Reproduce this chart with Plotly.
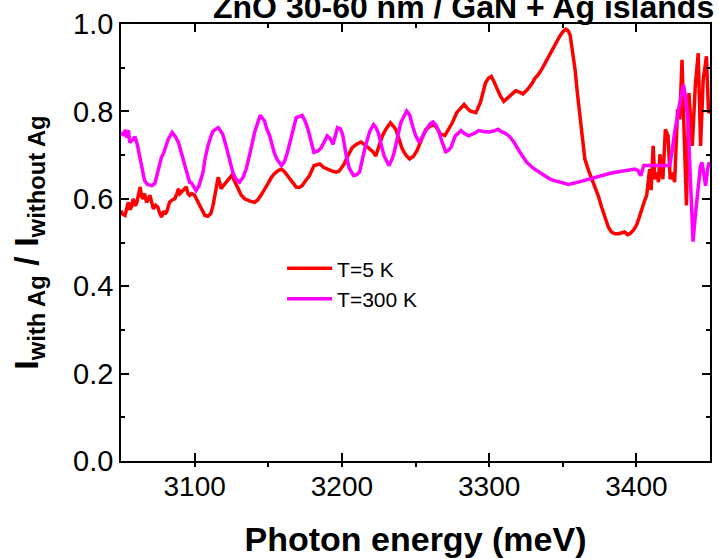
import plotly.graph_objects as go

# ---- data ----
e_300K = [3050, 3052, 3053, 3054, 3055, 3056, 3058, 3059.5, 3061, 3062, 3064, 3066, 3068, 3071, 3073, 3074,
          3076, 3077.5, 3079, 3080, 3082, 3084.7, 3087, 3089, 3091, 3093, 3095, 3096.6, 3098, 3101, 3103,
          3105.7, 3107, 3109, 3111, 3112.5, 3116, 3119, 3121, 3124, 3126, 3128, 3130.5, 3133, 3135, 3138,
          3140.7, 3144.5, 3147.5, 3149, 3151, 3154, 3156, 3159, 3161, 3163, 3166, 3169, 3173, 3175, 3177,
          3179, 3181, 3184, 3186, 3188, 3190, 3192, 3194, 3196, 3197, 3199, 3200.5, 3203, 3205, 3208, 3210,
          3212, 3214, 3216, 3219, 3221.5, 3223, 3225, 3227, 3228.7, 3232, 3234, 3235.5, 3238, 3240, 3244,
          3246, 3248, 3250, 3252.5, 3255, 3257, 3260, 3262, 3264, 3266, 3268, 3270.5, 3272, 3274, 3277,
          3281, 3283, 3286, 3290, 3293, 3296, 3300, 3303, 3306, 3308, 3311, 3314, 3317, 3321, 3325.7, 3330,
          3333.6, 3338, 3342, 3348, 3354, 3358, 3363, 3368, 3372, 3377, 3383, 3388, 3392, 3396, 3399, 3401,
          3403, 3405, 3410, 3415, 3419, 3422.7, 3424.5, 3426, 3429, 3432, 3433.5, 3435, 3437, 3438.5, 3440,
          3441.9, 3443.5, 3444.6, 3446, 3447, 3448.5, 3449.4, 3450]
r_300K = [0.752, 0.745, 0.758, 0.740, 0.757, 0.729, 0.735, 0.742, 0.725, 0.71, 0.672, 0.642, 0.633, 0.630,
          0.635, 0.649, 0.675, 0.695, 0.705, 0.715, 0.736, 0.752, 0.742, 0.729, 0.705, 0.676, 0.655, 0.638,
          0.636, 0.619, 0.630, 0.661, 0.69, 0.721, 0.742, 0.755, 0.763, 0.748, 0.725, 0.683, 0.660, 0.645,
          0.638, 0.650, 0.668, 0.71, 0.752, 0.791, 0.778, 0.760, 0.744, 0.706, 0.690, 0.676, 0.685, 0.706,
          0.750, 0.786, 0.791, 0.778, 0.759, 0.730, 0.706, 0.710, 0.717, 0.730, 0.744, 0.738, 0.725, 0.750,
          0.763, 0.760, 0.748, 0.698, 0.670, 0.653, 0.655, 0.661, 0.690, 0.721, 0.755, 0.770, 0.764, 0.748,
          0.720, 0.698, 0.676, 0.690, 0.706, 0.745, 0.774, 0.801, 0.792, 0.767, 0.745, 0.729, 0.742, 0.756,
          0.772, 0.776, 0.768, 0.752, 0.730, 0.708, 0.710, 0.717, 0.744, 0.756, 0.750, 0.744, 0.750, 0.756,
          0.754, 0.753, 0.755, 0.759, 0.754, 0.750, 0.742, 0.729, 0.706, 0.683, 0.670, 0.661, 0.652, 0.644,
          0.639, 0.633, 0.636, 0.641, 0.645, 0.649, 0.654, 0.659, 0.662, 0.664, 0.668, 0.668, 0.665, 0.653,
          0.676, 0.676, 0.676, 0.674, 0.676, 0.715, 0.752, 0.810, 0.861, 0.830, 0.782, 0.620, 0.502, 0.560,
          0.615, 0.675, 0.683, 0.650, 0.630, 0.670, 0.683, 0.680]

e_5K = [3050, 3051, 3052.7, 3054, 3055, 3056, 3057, 3058.3, 3059.5, 3060.6, 3062, 3063, 3064, 3065, 3066,
        3067.4, 3068.5, 3069.6, 3071, 3072, 3073.5, 3075, 3076, 3077.5, 3079, 3080, 3081, 3083, 3085, 3086.5,
        3088, 3089, 3090, 3091, 3092.5, 3094.4, 3095.5, 3096.6, 3098, 3100, 3101.5, 3103.4, 3105, 3107, 3109,
        3111, 3112.5, 3113.6, 3115, 3116, 3117, 3118, 3120, 3121.5, 3123, 3125, 3126.5, 3128, 3130, 3131.7,
        3134, 3136, 3138, 3140.7, 3143, 3145, 3147.5, 3149.7, 3152, 3154, 3156.5, 3159, 3161, 3163, 3166,
        3169, 3171, 3173, 3175.5, 3178, 3180, 3181, 3183, 3185, 3187.5, 3190, 3193, 3196, 3198, 3200, 3201.6,
        3203, 3205, 3207, 3210, 3213, 3216, 3218.5, 3221, 3223, 3225, 3227.5, 3230, 3233, 3235, 3236.6, 3239,
        3241, 3243.5, 3246, 3248.5, 3251, 3254, 3257, 3260, 3262.5, 3265, 3267, 3270, 3272.5, 3275, 3278,
        3280.5, 3283, 3285, 3287, 3291, 3294, 3296, 3297.5, 3299.5, 3301.5, 3303, 3305, 3307.7, 3310, 3313,
        3315.5, 3318, 3320.5, 3323, 3326, 3329, 3331, 3333.6, 3336, 3338, 3341, 3345, 3348, 3350, 3352,
        3353.5, 3355, 3356.5, 3358.4, 3360, 3361.8, 3363.5, 3365, 3367.5, 3370, 3372, 3374, 3376.5, 3379,
        3381, 3383, 3385.5, 3388, 3390, 3392, 3394, 3395.6, 3398, 3400, 3402, 3403.6, 3405.5, 3407, 3408,
        3409, 3410, 3411.4, 3412.5, 3414, 3415, 3416, 3417, 3418, 3419.7, 3421.5, 3423, 3424.5, 3426, 3428,
        3429.5, 3431, 3432.5, 3434, 3435.7, 3437, 3438, 3440, 3442, 3443.6, 3445.4, 3447.6, 3449, 3450]
r_5K = [0.573, 0.565, 0.562, 0.585, 0.592, 0.575, 0.581, 0.600, 0.584, 0.589, 0.610, 0.627, 0.605, 0.600,
        0.612, 0.592, 0.598, 0.608, 0.590, 0.577, 0.585, 0.581, 0.570, 0.558, 0.572, 0.565, 0.570, 0.592,
        0.598, 0.600, 0.612, 0.623, 0.612, 0.615, 0.622, 0.627, 0.612, 0.608, 0.612, 0.608, 0.598, 0.585,
        0.572, 0.562, 0.560, 0.566, 0.585, 0.608, 0.635, 0.649, 0.638, 0.623, 0.632, 0.638, 0.645, 0.653,
        0.645, 0.634, 0.620, 0.608, 0.600, 0.596, 0.594, 0.592, 0.598, 0.608, 0.620, 0.634, 0.648, 0.657,
        0.664, 0.668, 0.662, 0.653, 0.640, 0.627, 0.626, 0.630, 0.642, 0.653, 0.668, 0.676, 0.678, 0.680,
        0.672, 0.668, 0.664, 0.661, 0.663, 0.672, 0.680, 0.691, 0.705, 0.717, 0.725, 0.730, 0.722, 0.714,
        0.708, 0.698, 0.720, 0.744, 0.760, 0.774, 0.766, 0.759, 0.735, 0.714, 0.700, 0.691, 0.697, 0.710,
        0.735, 0.759, 0.766, 0.770, 0.760, 0.748, 0.745, 0.758, 0.774, 0.797, 0.808, 0.816, 0.808, 0.801,
        0.797, 0.820, 0.845, 0.865, 0.876, 0.880, 0.870, 0.854, 0.835, 0.823, 0.832, 0.842, 0.847, 0.844,
        0.840, 0.850, 0.863, 0.875, 0.885, 0.898, 0.911, 0.930, 0.956, 0.972, 0.982, 0.988, 0.985, 0.975,
        0.94, 0.895, 0.84, 0.782, 0.735, 0.691, 0.665, 0.645, 0.627, 0.608, 0.58, 0.555, 0.535, 0.524, 0.520,
        0.520, 0.521, 0.524, 0.518, 0.520, 0.528, 0.539, 0.558, 0.577, 0.595, 0.608, 0.64, 0.668, 0.620,
        0.721, 0.645, 0.66, 0.638, 0.702, 0.66, 0.645, 0.759, 0.744, 0.645, 0.66, 0.638, 0.805, 0.782, 0.918,
        0.744, 0.585, 0.842, 0.76, 0.721, 0.858, 0.933, 0.721, 0.873, 0.926, 0.797, 0.80]

series_names = ["T=5 K", "T=300 K"]
series_colors = ["#ff0000", "#ff00ff"]
x_ticks = [3100, 3200, 3300, 3400]
y_ticks = [0.0, 0.2, 0.4, 0.6, 0.8, 1.0]
title_text = "ZnO 30-60 nm / GaN + Ag islands"

FONT = "Liberation Sans, Arial, sans-serif"

fig = go.Figure()
fig.add_trace(go.Scatter(x=e_5K, y=r_5K, mode="lines", name=series_names[0],
                         line=dict(color=series_colors[0], width=3.5)))
fig.add_trace(go.Scatter(x=e_300K, y=r_300K, mode="lines", name=series_names[1],
                         line=dict(color=series_colors[1], width=3.5)))

fig.update_layout(
    width=719, height=559,
    margin=dict(l=121, r=7, t=24, b=95),
    paper_bgcolor="white", plot_bgcolor="white",
    font=dict(family=FONT, color="black"),
    showlegend=True,
    legend=dict(x=0.2735, y=0.487, xanchor="left", yanchor="top",
                bgcolor="rgba(0,0,0,0)", font=dict(size=21, family=FONT),
                itemwidth=45, tracegroupgap=0),
    xaxis=dict(range=[3050, 3450], tickvals=x_ticks, showgrid=False, zeroline=False,
               ticks="inside", ticklen=8, tickwidth=1.5, tickcolor="black",
               showline=True, linecolor="black", linewidth=1.5, mirror=False,
               minor=dict(dtick=50, tick0=3050, ticks="outside", ticklen=4, tickwidth=1.5, tickcolor="black"),
               tickfont=dict(size=28, family=FONT),
               title=dict(text="<b>Photon energy (meV)</b>", font=dict(size=34, family=FONT), standoff=26)),
    xaxis2=dict(range=[3050, 3450], overlaying="x", side="top", matches="x", tickvals=x_ticks,
                showgrid=False, zeroline=False, showticklabels=False,
                ticks="inside", ticklen=8, tickwidth=1.5, tickcolor="black",
                showline=True, linecolor="black", linewidth=1.5,
                minor=dict(dtick=50, tick0=3050, ticks="inside", ticklen=4, tickwidth=1.5, tickcolor="black")),
    yaxis=dict(range=[0, 1], tickvals=y_ticks, tickformat=".1f", showgrid=False, zeroline=False,
               ticks="inside", ticklen=8, tickwidth=1.5, tickcolor="black",
               showline=True, linecolor="black", linewidth=1.5, mirror="ticks",
               minor=dict(dtick=0.1, ticks="inside", ticklen=4, tickwidth=1.5, tickcolor="black"),
               tickfont=dict(size=29, family=FONT),
               title=dict(text="<b>I<sub>with Ag</sub> / I<sub>without Ag</sub></b>",
                          font=dict(size=34, family=FONT), standoff=24)),
    annotations=[dict(text="<b>" + title_text + "</b>", xref="paper", yref="paper",
                      x=0.582, y=1.038, xanchor="center", yanchor="middle", showarrow=False,
                      font=dict(size=32, family=FONT, color="black"))],
)
# empty helper trace so the top axis (ticks only) is drawn
fig.add_trace(go.Scatter(x=[None], y=[None], xaxis="x2", showlegend=False, hoverinfo="skip"))

fig.write_html("out.html")
